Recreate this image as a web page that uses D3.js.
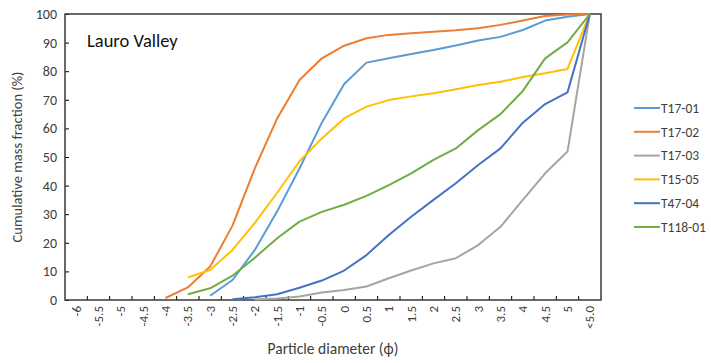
<!DOCTYPE html>
<html>
<head>
<meta charset="utf-8">
<script src="https://cdn.jsdelivr.net/npm/d3@7"></script>
<style>
  body { margin: 0; background: #fff; }
  text { font-family: Calibri, Carlito, "Open Sans", sans-serif; fill: #404040; }
</style>
</head>
<body>
<div id="chart"></div>
<script>
// categories on the x axis (phi classes)
var categories = ["-6","-5.5","-5","-4.5","-4","-3.5","-3","-2.5","-2","-1.5","-1","-0.5","0","0.5","1","1.5","2","2.5","3","3.5","4","4.5","5","<5.0"];
var yTicks = [0,10,20,30,40,50,60,70,80,90,100];

var seriesNames = ["T17-01","T17-02","T17-03","T15-05","T47-04","T118-01"];
var seriesColors = ["#5B9BD5","#ED7D31","#A5A5A5","#FFC000","#4472C4","#70AD47"];

// cumulative % per category (null = no value)
var t1701 = [null,null,null,null,null,null,1.5,7,17.5,31,46,62,75.5,83,84.5,86,87.4,89,90.7,92,94.4,97.7,99,100];
var t1702 = [null,null,null,null,0.7,4.4,11.7,26,46,63.5,76.9,84.5,88.9,91.5,92.7,93.3,93.8,94.3,95,96.2,97.7,99.3,99.8,100];
var t1703 = [null,null,null,null,null,null,null,null,0.2,0.5,1.2,2.6,3.5,4.7,7.6,10.3,12.8,14.6,19.2,25.6,35,44.3,51.9,100];
var t1505 = [null,null,null,null,null,7.9,10.5,17.5,27,37.5,48.5,56.5,63.5,67.6,69.9,71.2,72.3,73.7,75.2,76.3,78,79.3,80.8,100];
var t4704 = [null,null,null,null,null,null,null,0.3,1,2,4.3,6.8,10.3,15.7,22.7,29.1,35,40.8,47.2,53,62,68.5,72.6,100];
var t11801 = [null,null,null,null,null,2,4.1,8.5,14.8,21.6,27.4,30.8,33.3,36.4,40.2,44.3,49,53,59.4,65,73.1,84.5,90.1,100];
var seriesValues = [t1701, t1702, t1703, t1505, t4704, t11801];

var width = 711, height = 363;
var margin = { top: 14, left: 65, right: 110, bottom: 63 };

var svg = d3.select("#chart").append("svg")
  .attr("width", width)
  .attr("height", height);

svg.append("rect").attr("width", width).attr("height", height).attr("fill", "#fff");

var xScale = d3.scaleBand()
  .domain(categories)
  .range([margin.left, width - margin.right])
  .padding(0);

var yScale = d3.scaleLinear()
  .domain([0, 100])
  .range([height - margin.bottom, margin.top]);

var bottom = height - margin.bottom;
var cx = function(c) { return xScale(c) + xScale.bandwidth() / 2; };

// y axis
var yAxis = svg.append("g")
  .attr("transform", "translate(" + margin.left + ",0)")
  .call(d3.axisLeft(yScale).tickValues(yTicks).tickSizeInner(-4).tickSizeOuter(0).tickPadding(8));
yAxis.select(".domain").remove();
yAxis.selectAll("line").attr("stroke", "#000");
yAxis.selectAll("text").style("font-size", "14px").attr("fill", "#404040");

// x axis labels (rotated)
var xAxis = svg.append("g")
  .attr("transform", "translate(0," + bottom + ")")
  .call(d3.axisBottom(xScale).tickSize(0));
xAxis.select(".domain").remove();
xAxis.selectAll("text")
  .style("font-size", "13px")
  .attr("fill", "#404040")
  .attr("text-anchor", "end")
  .attr("transform", "rotate(-90)")
  .attr("x", -6)
  .attr("y", 0)
  .attr("dy", "0.35em");

// category boundary ticks
svg.append("g").selectAll("line")
  .data(categories.slice(1))
  .enter().append("line")
  .attr("x1", function(c) { return xScale(c); })
  .attr("x2", function(c) { return xScale(c); })
  .attr("y1", bottom)
  .attr("y2", bottom - 4)
  .attr("stroke", "#000");

// frame
svg.append("rect")
  .attr("x", margin.left)
  .attr("y", margin.top)
  .attr("width", width - margin.right - margin.left)
  .attr("height", bottom - margin.top)
  .attr("fill", "none")
  .attr("stroke", "#3a3a3a")
  .attr("stroke-width", 1.5);

// lines
var line = d3.line()
  .defined(function(d) { return d.v !== null; })
  .x(function(d) { return cx(d.c); })
  .y(function(d) { return yScale(d.v); });

seriesValues.forEach(function(vals, i) {
  var pts = categories.map(function(c, j) { return { c: c, v: vals[j] }; });
  svg.append("path")
    .datum(pts)
    .attr("d", line)
    .attr("fill", "none")
    .attr("stroke", seriesColors[i])
    .attr("stroke-width", 2)
    .attr("stroke-linejoin", "round");
});

// title inside plot
svg.append("text")
  .attr("x", 87)
  .attr("y", 47)
  .style("font-size", "18.5px")
  .style("fill", "#111")
  .text("Lauro Valley");

// axis titles
svg.append("text")
  .attr("transform", "translate(22," + ((margin.top + bottom) / 2) + ") rotate(-90)")
  .attr("text-anchor", "middle")
  .style("font-size", "14.5px")
  .text("Cumulative mass fraction (%)");

svg.append("text")
  .attr("x", (margin.left + width - margin.right) / 2)
  .attr("y", 354)
  .attr("text-anchor", "middle")
  .style("font-size", "15.5px")
  .text("Particle diameter (\u03D5)");

// legend
var legend = svg.append("g").selectAll("g")
  .data(seriesNames)
  .enter().append("g")
  .attr("transform", function(d, i) { return "translate(634," + (108 + i * 23.8) + ")"; });
legend.append("line")
  .attr("x1", 0).attr("x2", 26)
  .attr("stroke", function(d, i) { return seriesColors[i]; })
  .attr("stroke-width", 2);
legend.append("text")
  .attr("x", 27)
  .attr("dy", "0.35em")
  .style("font-size", "13.5px")
  .text(function(d) { return d; });
</script>
</body>
</html>
